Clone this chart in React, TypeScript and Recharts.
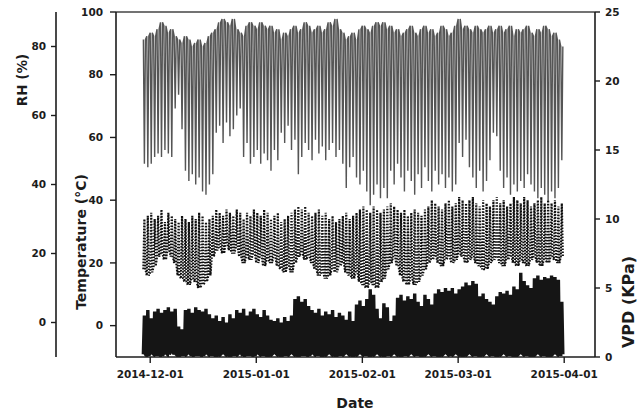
import React from 'react';
import { ComposedChart, Line, XAxis, YAxis, ReferenceLine } from 'recharts';

// Day numbers are counted from 2014-12-01 (day 0). Data start on 2014-11-29.
const firstDay = -2;
const tickDays = [0, 31, 62, 90, 121];
const tickLabels = ['2014-12-01', '2015-01-01', '2015-02-01', '2015-03-01', '2015-04-01'];
const rhTicks = [0, 20, 40, 60, 80];
const tempTicks = [0, 20, 40, 60, 80, 100];
const vpdTicks = [0, 5, 10, 15, 20, 25];

// Daily maximum / minimum relative humidity (%)
const rhHigh = [
  82, 83, 84, 83, 85, 87, 86, 84, 85, 83,
  82, 81, 83, 82, 80, 81, 82, 80, 81, 83,
  84, 85, 87, 88, 87, 86, 88, 85, 84, 83,
  86, 87, 86, 85, 87, 86, 85, 86, 84, 85,
  82, 84, 83, 85, 86, 84, 85, 87, 86, 84,
  85, 86, 84, 85, 87, 86, 88, 85, 84, 82,
  83, 84, 82, 85, 86, 85, 84, 86, 87, 86,
  87, 85, 86, 84, 85, 83, 84, 85, 86, 84,
  83, 85, 86, 84, 85, 83, 84, 86, 85, 83,
  84, 86, 88, 85, 86, 85, 84, 86, 85, 84,
  85, 86, 84, 85, 86, 84, 85, 86, 83, 85,
  84, 85, 86, 84, 83, 85, 84, 86, 85, 83,
  84, 82, 80,
];
const rhLow = [
  46, 45, 46, 48, 49, 48, 50, 49, 48, 62,
  66, 56, 44, 41, 43, 40, 42, 38, 37, 40,
  43, 55, 57, 52, 58, 54, 56, 60, 62, 48,
  52, 46, 48, 50, 46, 49, 47, 44, 50, 47,
  55, 52, 57, 50, 53, 43, 48, 52, 50, 47,
  53, 49, 51, 47, 50, 52, 48, 50, 46, 39,
  45, 48, 42, 40, 44, 38, 34, 37, 40, 36,
  39, 36, 44, 40, 46, 42, 38, 44, 41, 37,
  43, 39, 45, 41, 38, 44, 40, 43, 39, 42,
  38, 40, 52, 48, 53, 45, 42, 39, 44, 38,
  41, 47, 55, 54, 44, 39, 42, 37, 40, 38,
  41, 39, 43, 40, 38, 36, 39, 37, 35, 38,
  36, 39, 47,
];

// Daily maximum / minimum temperature (°C)
const tempHigh = [
  34, 35, 36, 34, 35, 37, 33, 36, 35, 34,
  33, 35, 34, 33, 35, 34, 36, 35, 33, 34,
  35, 37, 36, 35, 37, 36, 35, 37, 36, 34,
  36, 35, 37, 36, 35, 37, 36, 34, 35, 36,
  33, 34, 35, 36, 37, 38, 37, 38, 36, 35,
  36, 37, 35, 36, 34, 35, 33, 34, 35, 36,
  34, 35, 36, 37, 38, 37, 36, 38, 37, 36,
  37, 38, 39, 38, 37, 36, 37, 35, 36, 37,
  36, 35, 37, 38, 40, 39, 38, 37, 39, 40,
  38, 39, 41, 40, 39, 40, 41, 39, 38, 40,
  39, 38, 40, 41, 39, 40, 38, 39, 41, 40,
  39, 41, 40, 38, 39, 40, 41, 39, 40, 39,
  40, 38, 39,
];
const tempLow = [
  18, 16, 17, 19, 22, 23, 21, 24, 22, 20,
  16, 15, 14, 13, 15, 14, 12, 13, 14, 16,
  22, 24, 25, 23, 26, 24, 23, 25, 22, 20,
  22, 21, 23, 20, 22, 19, 21, 20, 22, 19,
  18, 17, 19, 17, 20, 22, 23, 21, 22, 20,
  18, 16, 17, 15, 16, 18, 17, 19, 20, 17,
  16, 15, 17, 14, 13, 12, 14, 13, 12, 14,
  15, 18, 20, 22, 19, 16, 14, 13, 15, 13,
  14, 16, 18, 20, 21, 22, 20, 19, 21, 22,
  20, 21, 23, 22, 20, 21, 22, 20, 19, 18,
  18, 20, 21, 22, 20, 19, 21, 22, 20, 19,
  21, 20, 19, 21, 22, 20, 19, 21, 20, 22,
  21, 20, 22,
];

// Daily maximum / minimum vapour pressure deficit (KPa)
const vpdHigh = [
  3.0, 3.4, 2.8, 3.3, 3.5, 3.2, 3.4, 3.6, 3.3, 3.5,
  2.2, 2.0, 3.4, 3.5, 3.2, 3.6, 3.4, 3.3, 3.5, 3.1,
  2.8, 3.0, 2.6, 2.9, 2.5, 3.1, 2.8, 3.4, 3.2, 3.5,
  3.0, 3.3, 3.5, 3.1, 2.9, 3.4, 3.0, 2.7, 2.6, 2.8,
  2.5, 2.9, 2.6, 3.0, 4.2, 4.4, 4.0, 4.2, 3.7, 3.4,
  3.2, 3.5, 3.0, 3.3, 3.1, 3.4, 2.9, 3.2, 3.0, 2.7,
  3.3, 2.6, 3.8, 4.1, 3.7, 4.2, 4.9, 4.5, 3.5, 2.8,
  3.9, 3.6, 2.6, 3.0, 4.3, 4.5, 4.1, 4.4, 4.2, 4.6,
  4.0, 3.7, 4.5, 4.2, 3.8, 4.6, 4.9, 4.7, 5.0, 4.8,
  5.0, 4.6, 4.9, 5.1, 5.4, 5.2, 5.5, 5.3, 4.4, 4.6,
  4.2, 4.0, 3.8, 4.4, 4.7, 4.6, 4.8, 4.5, 5.1, 4.9,
  6.1, 5.5, 5.2, 5.0, 5.7, 5.9, 5.6, 5.8, 5.7, 5.9,
  5.8, 5.6, 4.0,
];
const vpdLow = [
  0.2, 0.1, 0.3, 0.2, 0.2, 0.1, 0.3, 0.2, 0.4, 0.2,
  0.1, 0.2, 0.2, 0.3, 0.1, 0.2, 0.2, 0.1, 0.3, 0.2,
  0.2, 0.1, 0.2, 0.3, 0.2, 0.1, 0.2, 0.2, 0.3, 0.1,
  0.2, 0.2, 0.1, 0.3, 0.2, 0.2, 0.1, 0.2, 0.3, 0.2,
  0.1, 0.2, 0.2, 0.3, 0.2, 0.1, 0.2, 0.2, 0.1, 0.3,
  0.2, 0.2, 0.1, 0.2, 0.3, 0.2, 0.1, 0.2, 0.2, 0.3,
  0.2, 0.1, 0.2, 0.3, 0.2, 0.2, 0.1, 0.2, 0.3, 0.2,
  0.1, 0.2, 0.2, 0.3, 0.2, 0.1, 0.2, 0.2, 0.3, 0.2,
  0.2, 0.1, 0.2, 0.3, 0.2, 0.2, 0.1, 0.2, 0.3, 0.2,
  0.2, 0.3, 0.2, 0.1, 0.2, 0.3, 0.2, 0.2, 0.1, 0.2,
  0.3, 0.2, 0.2, 0.1, 0.2, 0.3, 0.2, 0.2, 0.1, 0.2,
  0.3, 0.2, 0.2, 0.1, 0.2, 0.3, 0.2, 0.2, 0.1, 0.2,
  0.3, 0.2, 0.2,
];

type Pt = { t: number; rh: number; temp: number; vpd: number };
const data: Pt[] = [];
rhHigh.forEach((_, i) => {
  const d = firstDay + i;
  data.push({ t: d, rh: rhHigh[i], temp: tempLow[i], vpd: vpdLow[i] });
  data.push({ t: d + 0.3, rh: rhLow[i], temp: tempHigh[i], vpd: vpdHigh[i] });
  data.push({ t: d + 0.6, rh: rhHigh[i], temp: tempLow[i], vpd: vpdLow[i] });
});

const INK = '#1c1c1c';
const FONT = 'DejaVu Sans';
const tickStyle = { fill: INK, fontSize: 10.5, fontWeight: 700, fontFamily: FONT };

const Title = (p: any) => {
  const { tx, ty, text, size, rot } = p;
  return (
    <text
      x={tx}
      y={ty}
      transform={rot ? `rotate(-90 ${tx} ${ty})` : undefined}
      textAnchor="middle"
      dominantBaseline="central"
      fontFamily={FONT}
      fontWeight={700}
      fontSize={size}
      fill={INK}
    >
      {text}
    </text>
  );
};

export default function App() {
  return (
    <div style={{ position: 'absolute', left: 0, top: 0 }}>
      <ComposedChart
        width={641}
        height={413}
        data={data}
        margin={{ top: 12, right: 0, bottom: 0, left: 0 }}
      >
        <XAxis
          dataKey="t"
          type="number"
          domain={[-10, 130]}
          ticks={tickDays}
          tickFormatter={(v: number) => tickLabels[tickDays.indexOf(v)] ?? ''}
          height={56}
          tickSize={6}
          tickMargin={8}
          tick={tickStyle}
          axisLine={{ stroke: INK, strokeWidth: 1.6 }}
          tickLine={{ stroke: INK, strokeWidth: 1.4 }}
          allowDataOverflow
          label={<Title tx={355} ty={403} text="Date" size={14} />}
        />
        <YAxis
          yAxisId="axisA"
          orientation="left"
          width={60}
          domain={[-10, 100]}
          ticks={tempTicks}
          tickSize={6}
          tickMargin={7}
          tick={tickStyle}
          axisLine={{ stroke: INK, strokeWidth: 1.6 }}
          tickLine={{ stroke: INK, strokeWidth: 1.4 }}
          allowDataOverflow
          label={<Title tx={81} ty={242} text="Temperature (°C)" size={14} rot />}
        />
        <YAxis
          yAxisId="axisB"
          orientation="left"
          width={56}
          domain={[-10, 90]}
          ticks={rhTicks}
          tickSize={5}
          tickMargin={5}
          tick={tickStyle}
          axisLine={{ stroke: INK, strokeWidth: 1.6 }}
          tickLine={{ stroke: INK, strokeWidth: 1.4 }}
          allowDataOverflow
          label={<Title tx={21.5} ty={80} text="RH (%)" size={13.5} rot />}
        />
        <YAxis
          yAxisId="axisC"
          orientation="right"
          width={46}
          domain={[0, 25]}
          ticks={vpdTicks}
          tickSize={5}
          tickMargin={5}
          tick={tickStyle}
          axisLine={{ stroke: INK, strokeWidth: 1.6 }}
          tickLine={{ stroke: INK, strokeWidth: 1.4 }}
          allowDataOverflow
          label={<Title tx={628.5} ty={302} text="VPD (KPa)" size={16} rot />}
        />
        <ReferenceLine yAxisId="axisA" y={100} stroke="#444" strokeWidth={1.6} />
        <Line
          yAxisId="axisB"
          dataKey="rh"
          stroke="#555"
          strokeWidth={1.4}
          dot={false}
          isAnimationActive={false}
        />
        <Line
          yAxisId="axisA"
          dataKey="temp"
          stroke="#111"
          strokeWidth={2.2}
          strokeDasharray="1.6 1.4"
          dot={false}
          isAnimationActive={false}
        />
        <Line
          yAxisId="axisC"
          dataKey="vpd"
          stroke="#151515"
          strokeWidth={3.4}
          dot={false}
          isAnimationActive={false}
        />
      </ComposedChart>
    </div>
  );
}
